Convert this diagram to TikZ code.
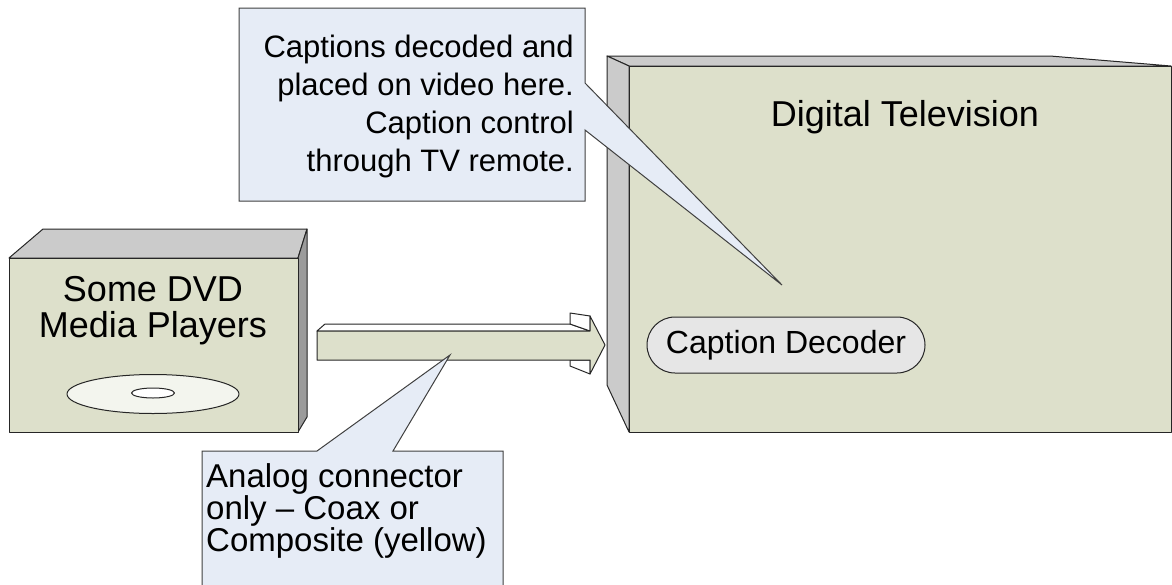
\documentclass[tikz,border=0pt]{standalone}
\usepackage{fontspec}
\setmainfont{Liberation Sans}
\definecolor{boxgreen}{HTML}{DDE0CB}
\definecolor{topgray}{HTML}{CBCBCB}
\definecolor{sidegray}{HTML}{9B9B9B}
\definecolor{discwhite}{HTML}{F3F5EE}
\definecolor{pillgray}{HTML}{E6E6E6}
\definecolor{noteblue}{HTML}{E6ECF6}
\begin{document}
\begin{tikzpicture}[x=1pt,y=-1pt,
    face/.style={draw=black!85,line width=1pt,line join=round},
    note/.style={draw=black!75,line width=1pt,line join=miter,fill=noteblue}]
    \useasboundingbox (0,0) rectangle (1172,584);
    \clip (0,0) rectangle (1172,584);

    % DVD player
    \filldraw[face,fill=topgray] (9,258) -- (43,229) -- (307,229) -- (298,258) -- cycle;
    \filldraw[face,fill=sidegray] (298,258) -- (307,229) -- (307,417) -- (298,432) -- cycle;
    \filldraw[face,fill=boxgreen] (9,258) rectangle (298,432);
    \node[align=center,inner sep=0pt,font=\fontsize{36}{36}\selectfont] (dvd) at (153,311) {Some DVD\\Media Players};
    \filldraw[face,fill=discwhite] (153,394) ellipse [x radius=86pt,y radius=19.5pt];
    \filldraw[face,fill=white] (153,393) ellipse [x radius=21.5pt,y radius=5pt];

    % television
    \filldraw[face,fill=topgray] (607,56) -- (1050,56) -- (1171,66) -- (629,66) -- cycle;
    \filldraw[face,fill=topgray] (607,56) -- (629,66) -- (629,432) -- (607,385) -- cycle;
    \filldraw[face,fill=boxgreen] (629,66) rectangle (1171,432);
    \node[anchor=base,inner sep=0pt,font=\fontsize{36}{36}\selectfont] (tv) at (905,126) {Digital Television};
    \node[draw=black!85,line width=1pt,fill=pillgray,rounded corners=28pt,minimum width=278pt,minimum height=56pt,inner sep=0pt,font=\fontsize{32}{32}\selectfont] (dec) at (786,345) {Caption Decoder};

    % block arrow between the two
    \filldraw[face,fill=white] (317,331) -- (325,324) -- (570,324) -- (590,331) -- cycle;
    \filldraw[face,fill=white] (570,313) -- (590,316) -- (590,331) -- (570,324) -- cycle;
    \filldraw[face,fill=white] (570,360) -- (570,366) -- (590,374) -- (590,360) -- cycle;
    \filldraw[face,fill=boxgreen] (317,331) -- (590,331) -- (590,316) -- (605,345) -- (590,374) -- (590,360) -- (317,360) -- cycle;

    % callouts
    \coordinate (cap_tip) at (782,285);
    \coordinate (ana_tip) at (450,355);
    \filldraw[note] (239,8) -- (585,8) -- (585,83) -- (cap_tip) -- (585,130) -- (585,201) -- (239,201) -- cycle;
    \node[anchor=east,align=right,inner sep=0pt,font=\fontsize{31}{38}\selectfont] (cap_note) at (574,106) {Captions decoded and\\placed on video here.\\Caption control\\through TV remote.};
    \filldraw[note] (202,451) -- (317,451) -- (ana_tip) -- (393,451) -- (503,451) -- (503,600) -- (202,600) -- cycle;
    \node[anchor=west,align=left,inner sep=0pt,font=\fontsize{33}{32}\selectfont] (ana_note) at (206,511) {Analog connector\\only – Coax or\\Composite (yellow)};
\end{tikzpicture}
\end{document}
